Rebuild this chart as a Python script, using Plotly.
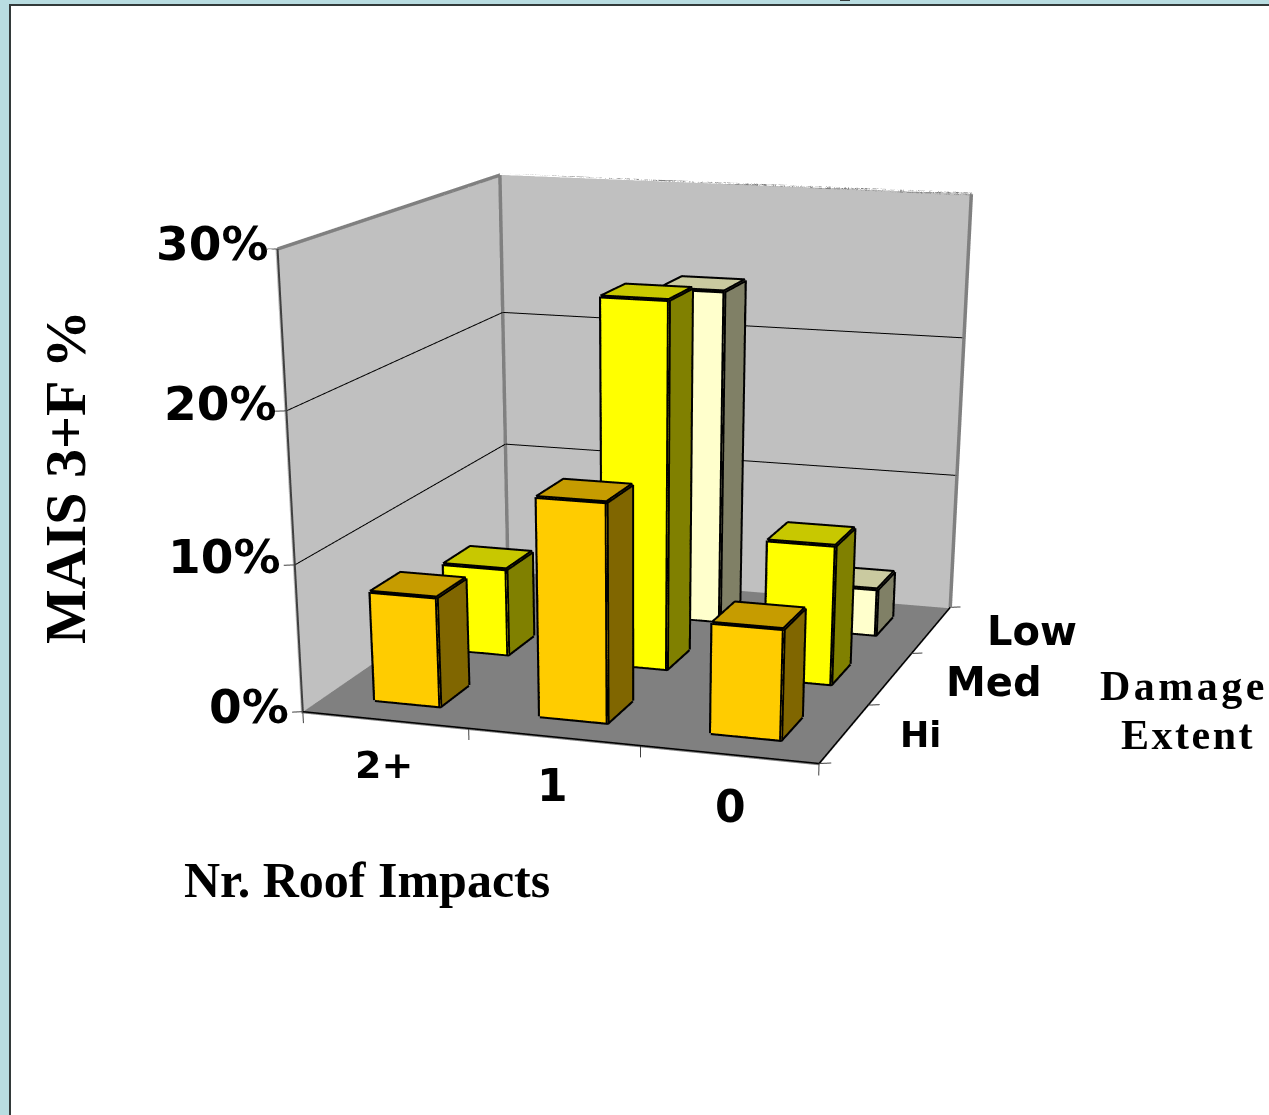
import plotly.graph_objects as go

# Grouped percentages by roof impacts and damage extent
impacts = ["2+", "1", "0"]
extent = ["Hi", "Med", "Low"]
hi_values = [7.5, 14.7, 7.4]
med_values = [6.2, 25.3, 9.7]
low_values = [None, 23.9, 3.4]
percent_ticks = [0, 10, 20, 30]

series = [
    (hi_values, "#FFCC00", "#806600", "#C69C00"),
    (med_values, "#FFFF00", "#808000", "#C8C800"),
    (low_values, "#FFFFCC", "#808066", "#CACAA0"),
]

PAGE_W, FIG_H = 1269, 2278
BAR_LO, BAR_HI = 0.3, 0.7
# Panels sit just behind their outlines so the lines stay fully visible
PANEL_GAP = 0.012


def px(x):
    return x / PAGE_W


def py(y):
    return 1 - y / FIG_H


def bar_mesh(values, row, front, side, top):
    xs, ys, zs, i, j, k, colors = [], [], [], [], [], [], []
    ex, ey, ez = [], [], []
    for col, v in enumerate(values):
        if v is None:
            continue
        x0, x1, y0, y1 = col + BAR_LO, col + BAR_HI, row + BAR_LO, row + BAR_HI
        n = len(xs)
        xs += [x0, x1, x1, x0, x0, x1, x1, x0]
        ys += [y0, y0, y1, y1, y0, y0, y1, y1]
        zs += [0, 0, 0, 0, v, v, v, v]
        faces = [
            ((0, 1, 5), front), ((0, 5, 4), front),
            ((1, 2, 6), side), ((1, 6, 5), side),
            ((4, 5, 6), top), ((4, 6, 7), top),
            ((2, 3, 7), side), ((2, 7, 6), side),
            ((3, 0, 4), side), ((3, 4, 7), side),
        ]
        for (a, b, c), colour in faces:
            i.append(n + a)
            j.append(n + b)
            k.append(n + c)
            colors.append(colour)
        for path in ([0, 1, 2], [4, 5, 6, 7, 4], [0, 4], [1, 5], [2, 6], [3, 7]):
            ex += [xs[n + p] for p in path] + [None]
            ey += [ys[n + p] for p in path] + [None]
            ez += [zs[n + p] for p in path] + [None]
    return xs, ys, zs, i, j, k, colors, ex, ey, ez


FLAT = dict(ambient=1, diffuse=0, specular=0, fresnel=0, roughness=1)
fig = go.Figure()


def panel(x, y, z, colour):
    fig.add_trace(go.Mesh3d(x=x, y=y, z=z, i=[0, 0], j=[1, 2], k=[2, 3], color=colour,
                            flatshading=True, lighting=FLAT, hoverinfo="skip", showlegend=False))


def edges(x, y, z, colour, width):
    fig.add_trace(go.Scatter3d(x=x, y=y, z=z, mode="lines", line=dict(color=colour, width=width),
                               hoverinfo="skip", showlegend=False))


n_x, n_y, top_z = len(impacts), len(extent), percent_ticks[-1]
gap = PANEL_GAP
floor_z = -gap * 10
panel([-gap, n_x, n_x, -gap], [0, 0, n_y + gap, n_y + gap], [floor_z] * 4, "#808080")
panel([-gap] * 4, [0, n_y + gap, n_y + gap, 0], [floor_z, floor_z, top_z, top_z], "#C0C0C0")
panel([-gap, n_x, n_x, -gap], [n_y + gap] * 4, [floor_z, floor_z, top_z, top_z], "#C0C0C0")

for z in percent_ticks[1:-1]:
    edges([0, 0, n_x], [0, n_y, n_y], [z, z, z], "#000000", 2)

edges([0, 0, n_x, n_x, None, 0, 0], [0, n_y, n_y, n_y, None, n_y, n_y],
      [top_z, top_z, top_z, 0, None, 0, top_z], "#808080", 7)
edges([0, 0], [0, 0], [0, top_z], "#404040", 4)
edges([0, n_x, n_x], [0, 0, n_y], [0, 0, 0], "#000000", 3)

# Short tick marks outside the floor and the left wall
for z in percent_ticks:
    edges([0, -0.054], [0, -0.024], [z, z], "#404040", 2)
for col in range(n_x + 1):
    edges([col, col], [0, 0], [0, -0.8], "#404040", 2)
for row in range(n_y + 1):
    edges([n_x, n_x + 0.06], [row, row + 0.026], [0, 0], "#404040", 2)

for row, (values, front, side, top) in enumerate(series):
    xs, ys, zs, i, j, k, colors, ex, ey, ez = bar_mesh(values, row, front, side, top)
    fig.add_trace(go.Mesh3d(x=xs, y=ys, z=zs, i=i, j=j, k=k, facecolor=colors,
                            flatshading=True, lighting=FLAT, hoverinfo="skip", showlegend=False))
    edges(ex, ey, ez, "#000000", 8)

hidden = dict(visible=False, showgrid=False, zeroline=False, showticklabels=False, showbackground=False, title="")
sans = "DejaVu Sans"
serif = "Liberation Serif"


def spaced(text, letter_gap):
    return f'<span style="letter-spacing:{letter_gap}px">{text}</span>' if letter_gap else text


def label(text, x, y, size, family=sans, letter_gap=0, angle=0):
    return dict(text=f"<b>{spaced(text, letter_gap)}</b>", x=px(x), y=py(y), xref="paper", yref="paper", showarrow=False,
                xanchor="center", yanchor="middle", textangle=angle, font=dict(family=family, size=size, color="#000000"))


annotations = [
    label("30%", 212, 243, 47),
    label("20%", 220, 404, 47),
    label("10%", 224, 556, 47),
    label("0%", 249, 706, 47),
    label(impacts[0], 384, 765, 38),
    label(impacts[1], 552, 785, 44),
    label(impacts[2], 730, 806, 44),
    label(extent[0], 920, 735, 35),
    label(extent[1], 994, 682, 40),
    label(extent[2], 1032, 631, 40),
    label("Nr. Roof Impacts", 367, 880, 50, family=serif),
    label("MAIS 3+F %", 65, 477, 58, family=serif, angle=-90),
    label("Damage", 1184, 686, 42, family=serif, letter_gap=3.5),
    label("Extent", 1188, 735, 42, family=serif, letter_gap=2.5),
]

band = "#B9DDE1"
frame = "#333A3A"
shapes = [
    dict(type="rect", xref="paper", yref="paper", x0=0, x1=px(9), y0=0, y1=1, fillcolor=band, line_width=0),
    dict(type="rect", xref="paper", yref="paper", x0=0, x1=1, y0=py(4), y1=1, fillcolor=band, line_width=0),
    dict(type="rect", xref="paper", yref="paper", x0=px(9), x1=px(11), y0=0, y1=py(4), fillcolor=frame, line_width=0),
    dict(type="rect", xref="paper", yref="paper", x0=px(9), x1=1, y0=py(6), y1=py(4), fillcolor=frame, line_width=0),
    dict(type="rect", xref="paper", yref="paper", x0=px(840), x1=px(850), y0=py(1), y1=1, fillcolor=frame, line_width=0),
]

fig.update_layout(
    width=PAGE_W, height=FIG_H, margin=dict(l=0, r=0, t=0, b=0), paper_bgcolor="#FFFFFF", showlegend=False,
    annotations=annotations, shapes=shapes,
    scene=dict(
        domain=dict(x=[0, 1], y=[0, 1]), bgcolor="rgba(0,0,0,0)",
        xaxis=dict(range=[-0.1, 3.1], **hidden),
        yaxis=dict(range=[-0.1, 3.1], **hidden),
        zaxis=dict(range=[-1, 30], **hidden),
        aspectmode="manual", aspectratio=dict(x=1, y=1.106, z=0.809),
        camera=dict(eye=dict(x=1.534, y=-4.792, z=1.065), center=dict(x=0.246, y=-0.828, z=-0.9645),
                    up=dict(x=0.011, y=-0.0106, z=1), projection=dict(type="perspective")),
    ),
)
fig.write_html("out.html", config=dict(displayModeBar=False),
               post_script="document.documentElement.style.overflow='hidden';document.body.style.overflow='hidden';document.body.style.height='100vh';")
